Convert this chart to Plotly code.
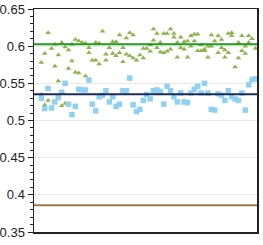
import plotly.graph_objects as go

# Green triangle series (x index, value)
green_x = [0, 0, 1, 1, 2, 2, 3, 3, 4, 4, 5, 5, 6, 6, 7, 7, 8, 8, 9, 9,
           10, 10, 11, 11, 12, 13, 13, 14, 14, 15, 16, 16, 17, 17, 18, 19, 19, 20,
           21, 21, 22, 22, 23, 23, 24, 24, 25, 25, 26, 26,
           27, 27, 28, 29, 30, 30, 31, 32, 32, 33, 33, 34, 34, 35, 35, 36, 36,
           37, 37, 38, 38, 39, 39, 40, 40, 41, 41, 42, 42, 43, 43, 44, 44,
           45, 45, 46, 46, 47, 47, 48, 48, 49, 49, 50, 50, 51, 52, 52, 53, 53,
           54, 54, 55, 55, 56, 56, 57, 58, 58, 59, 59, 60, 60, 61, 61, 62, 63]
green_y = [0.578, 0.535, 0.590, 0.521, 0.618, 0.527, 0.597, 0.516, 0.6025, 0.573,
           0.588, 0.553, 0.605, 0.520, 0.599, 0.523, 0.570, 0.595, 0.580, 0.6025,
           0.609, 0.565, 0.607, 0.564, 0.605, 0.604, 0.560, 0.598, 0.591, 0.581,
           0.605, 0.581, 0.604, 0.576, 0.620, 0.589, 0.581, 0.598,
           0.606, 0.590, 0.606, 0.587, 0.615, 0.591, 0.598, 0.579, 0.611, 0.589,
           0.618, 0.587,
           0.615, 0.584, 0.581, 0.588, 0.584, 0.597, 0.597, 0.593, 0.602,
           0.623, 0.608, 0.617, 0.598, 0.605, 0.592, 0.617, 0.591,
           0.617, 0.593, 0.623, 0.596, 0.617, 0.612, 0.605, 0.585, 0.612, 0.598,
           0.606, 0.596, 0.607, 0.585, 0.614, 0.600,
           0.616, 0.607, 0.616, 0.594, 0.602, 0.594, 0.596, 0.594, 0.600, 0.585,
           0.615, 0.600, 0.607, 0.614, 0.591, 0.609, 0.598,
           0.595, 0.585, 0.617, 0.591, 0.618, 0.614, 0.572, 0.605, 0.584,
           0.614, 0.594, 0.600, 0.590, 0.614, 0.605, 0.610, 0.597]

# Blue square series, one per x index
blue_x = list(range(64))
blue_y = [0.530, 0.516, 0.543, 0.517, 0.525, 0.531, 0.538, 0.550, 0.522, 0.508,
          0.519, 0.542, 0.541, 0.541, 0.5545, 0.522, 0.513, 0.532, 0.534, 0.540,
          0.525, 0.532, 0.519, 0.522, 0.540, 0.540, 0.557, 0.521, 0.512, 0.515,
          0.527, 0.535, 0.529, 0.540, 0.541, 0.539, 0.522, 0.546, 0.540, 0.532,
          0.525, 0.537, 0.525, 0.524, 0.537, 0.542, 0.546, 0.537, 0.550, 0.537,
          0.515, 0.514, 0.536, 0.534, 0.527, 0.540, 0.532, 0.529, 0.527, 0.537,
          0.514, 0.548, 0.555, 0.556]

# Reference horizontal lines
ref_values = [0.6025, 0.5352, 0.386]
ref_colors = ["#1f9a1f", "#1c2a55", "#9a7a4c"]

y_ticks = [0.35, 0.4, 0.45, 0.5, 0.55, 0.6, 0.65]
y_tick_text = ["0.35", "0.4", "0.45", "0.5", "0.55", "0.6", "0.65"]

fig = go.Figure()
fig.add_trace(go.Scatter(x=green_x, y=green_y, mode="markers",
                         marker=dict(symbol="triangle-up", size=5, color="#8db54c"),
                         showlegend=False, hoverinfo="skip"))
fig.add_trace(go.Scatter(x=blue_x, y=blue_y, mode="markers",
                         marker=dict(symbol="square", size=5.5, color="#8fd1f2"),
                         showlegend=False, hoverinfo="skip"))

for v, c in zip(ref_values, ref_colors):
    fig.add_shape(type="line", xref="paper", x0=0, x1=1, yref="y", y0=v, y1=v,
                  line=dict(color=c, width=2))

fig.update_layout(
    width=263, height=245,
    margin=dict(l=34, r=6, t=9, b=13, autoexpand=False),
    paper_bgcolor="white", plot_bgcolor="white",
    font=dict(family="Liberation Sans, Arial, sans-serif", size=13, color="#222"),
    xaxis=dict(range=[-2.15, 63.44], showticklabels=False, ticks="", showgrid=False,
               zeroline=False, showline=True, linecolor="#222", linewidth=1.5, mirror=True),
    yaxis=dict(range=[0.35, 0.65], tickvals=y_ticks, ticktext=y_tick_text,
               ticks="outside", ticklen=5, tickcolor="#222", tickwidth=1,
               showgrid=True, gridcolor="#e8e8e8", gridwidth=1, zeroline=False,
               showline=True, linecolor="#222", linewidth=1.5, mirror=True,
               minor=dict(dtick=0.01, ticks="outside", ticklen=3, tickcolor="#222",
                          showgrid=False)),
)

fig.write_html("out.html", config={"displayModeBar": False, "staticPlot": True})

# remove the default page margin so the figure sits at the window's top-left corner
with open("out.html", "r", encoding="utf-8") as f:
    html = f.read()
html = html.replace("<head>", "<head><style>html,body{margin:0;padding:0;overflow:hidden;}</style>", 1)
with open("out.html", "w", encoding="utf-8") as f:
    f.write(html)
